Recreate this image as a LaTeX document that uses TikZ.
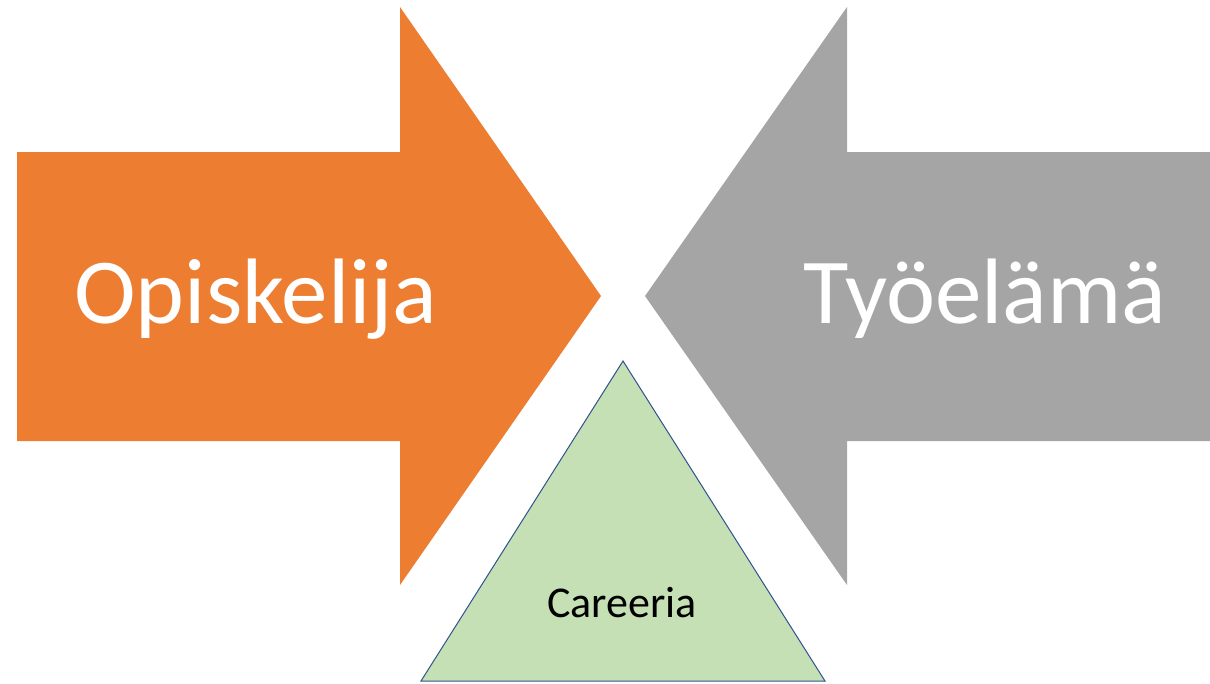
\documentclass[tikz,border=0pt]{standalone}
\usepackage{fontspec}
\setmainfont{Carlito}
\definecolor{arroworange}{HTML}{ED7D31}
\definecolor{arrowgray}{HTML}{A5A5A5}
\definecolor{trigreen}{HTML}{C5E0B4}
\definecolor{triblue}{HTML}{2F528F}
\begin{document}
\begin{tikzpicture}[x=1pt,y=-1pt,
  bigtext/.style={font=\fontsize{93}{100}\selectfont,white,anchor=base,inner sep=0pt},
  smalltext/.style={font=\fontsize{44}{50}\selectfont,black,anchor=base,inner sep=0pt}]
  \useasboundingbox (0,0) rectangle (1210,683);
  \fill[arroworange] (17,152) -- (400,152) -- (400,7) -- (601,296) -- (400,585) -- (400,441) -- (17,441) -- cycle;
  \fill[arrowgray] (1210,152) -- (847,152) -- (847,7) -- (645,296) -- (847,585) -- (847,441) -- (1210,441) -- cycle;
  \draw[triblue,fill=trigreen,line width=1pt] (623,361) -- (825,681) -- (421,681) -- cycle;
  \node[bigtext] (stud) at (256,323) {Opiskelija};
  \node[bigtext] (work) at (985,323) {Työelämä};
  \node[smalltext] (care) at (622,617) {Careeria};
\end{tikzpicture}
\end{document}
